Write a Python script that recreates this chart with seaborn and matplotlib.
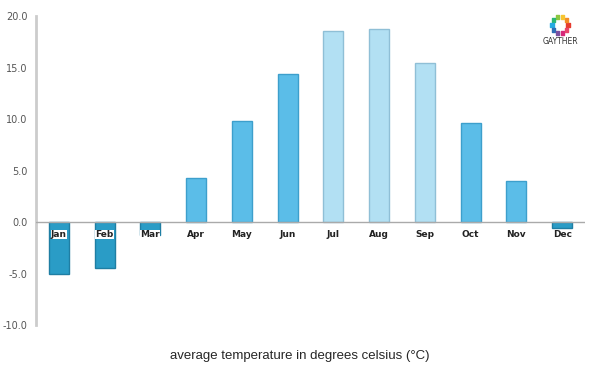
import seaborn as sns
import pandas as pd
import numpy as np
import matplotlib.pyplot as plt

# monthly average temperature (°C)
months = ["Jan", "Feb", "Mar", "Apr", "May", "Jun",
          "Jul", "Aug", "Sep", "Oct", "Nov", "Dec"]
temps = [-5.0, -4.5, -1.3, 4.3, 9.8, 14.4, 18.5, 18.7, 15.4, 9.6, 4.0, -0.6]
y_ticks = [-10, -5, 0, 5, 10, 15, 20]

df = pd.DataFrame({"month": months, "temp": temps})

# colour bands: below zero / mild / warm
def band_colors(t):
    if t < 0:
        return "#2a9cc6", "#1f7ea3"
    if t < 15:
        return "#5bbde8", "#3d9fcc"
    return "#b2e0f3", "#8fbfd6"

fills = [band_colors(t)[0] for t in temps]
edges = [band_colors(t)[1] for t in temps]

sns.set_style("white")
fig = plt.figure(figsize=(6, 3.75), dpi=100)
ax = fig.add_axes([0.06, 0.1333, 0.915, 0.824])

sns.barplot(data=df, x="month", y="temp", hue="month", palette=fills,
            legend=False, width=0.44, ax=ax, saturation=1)
for p, ec in zip(ax.patches, edges):
    p.set_edgecolor(ec)
    p.set_linewidth(1)

ax.axhline(0, color="#aaaaaa", lw=1, zorder=3)
ax.set_xlim(-0.5, len(months) - 0.5)
ax.set_ylim(-10, 20)
ax.set_yticks(y_ticks)
ax.set_yticklabels([f"{v:.1f}" for v in y_ticks], fontsize=7, color="#555555")
ax.tick_params(axis="y", length=0, pad=6)
ax.set_xticks([])
ax.set_xlabel("")
ax.set_ylabel("")
for s in ["top", "right", "bottom"]:
    ax.spines[s].set_visible(False)
ax.spines["left"].set_color("#cccccc")
ax.spines["left"].set_linewidth(2)

for i, m in enumerate(months):
    ax.text(i, -1.2, m, ha="center", va="center", fontsize=6.5, fontweight="bold",
            color="#222222", zorder=5,
            bbox=dict(facecolor="white", edgecolor="none", pad=0.2))

fig.text(0.5, 0.052, "average temperature in degrees celsius (°C)",
         ha="center", va="center", fontsize=9.5, family="Liberation Sans")

# small logo in the top right corner
logo = fig.add_axes([0.9, 0.872, 0.0667, 0.101])
logo.set_xlim(-1, 1)
logo.set_ylim(-1, 1)
logo.axis("off")
logo_cols = ["#e63b2e", "#f28c28", "#f7c531", "#8cc63f", "#2bb673",
             "#27aae1", "#2e6db4", "#7a4fa0", "#d6297a", "#e8456b"]
ang = np.linspace(0, 2 * np.pi, len(logo_cols), endpoint=False)
logo.scatter(0.4 * np.cos(ang), 0.21 + 0.45 * np.sin(ang), c=logo_cols, s=7, marker="s")
logo.text(0, -0.68, "GAYTHER", ha="center", va="center", fontsize=5.5, color="#333333")

fig.savefig("out.png", dpi=100)
